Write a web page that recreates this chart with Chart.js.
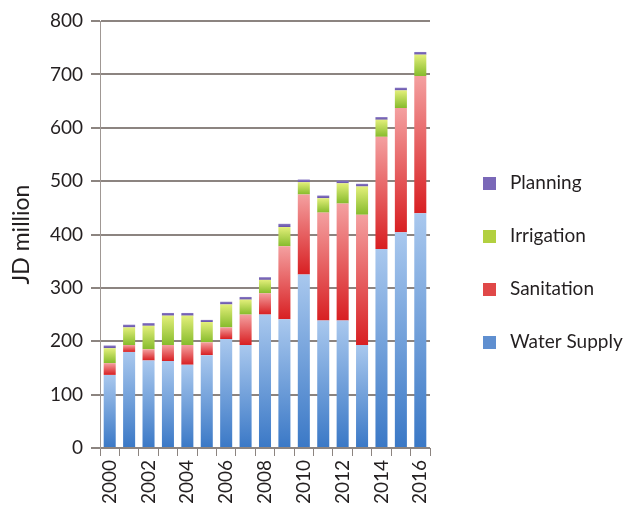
<!DOCTYPE html>
<html lang="en">
  <head>
    <meta charset="UTF-8" />
    <title>Water sector spending</title>
    <script src="https://cdn.jsdelivr.net/npm/chart.js@4/dist/chart.umd.min.js"></script>
    <style>
      html, body {
        margin: 0;
        padding: 0;
        background: #fff;
      }
      .chart-box {
        position: relative;
        width: 629px;
        height: 517px;
      }
    </style>
  </head>
  <body>
    <div class="chart-box">
      <canvas id="spendChart"></canvas>
    </div>

    <script>
      const years = ["2000", "2001", "2002", "2003", "2004", "2005", "2006", "2007", "2008",
        "2009", "2010", "2011", "2012", "2013", "2014", "2015", "2016"];

      // JD million per year
      const waterSupply = [137, 180, 164, 163, 156, 174, 204, 193, 250, 241, 325, 239, 239, 193, 373, 404, 440];
      const sanitation = [22, 13, 21, 30, 37, 24, 22, 57, 40, 137, 150, 202, 219, 244, 210, 233, 257];
      const irrigation = [28, 33, 44, 55, 55, 38, 43, 28, 25, 36, 23, 27, 38, 53, 32, 33, 40];
      const planning = [5, 5, 5, 5, 5, 4, 5, 5, 5, 6, 5, 5, 5, 5, 5, 5, 5];

      const yTicks = [0, 100, 200, 300, 400, 500, 600, 700, 800];

      const FONT = "Lato, 'Open Sans', sans-serif";

      // bottom / top colour of each segment's vertical fade
      const fades = [
        { bottom: "#3a78c6", top: "#a9c8ee", swatch: "#5f8fd0" },
        { bottom: "#d81f22", top: "#f4a0a0", swatch: "#e04848" },
        { bottom: "#86bb2c", top: "#e3ef7a", swatch: "#b2d040" },
        { bottom: "#6550a8", top: "#8a7ac4", swatch: "#7a68b8" },
      ];

      const series = [
        { label: "Water Supply", data: waterSupply },
        { label: "Sanitation", data: sanitation },
        { label: "Irrigation", data: irrigation },
        { label: "Planning", data: planning },
      ];

      function segmentFill(c) {
        const chart = c.chart;
        const fade = fades[c.datasetIndex];
        if (!chart.chartArea || c.dataIndex === undefined) return fade.swatch;
        const y = chart.scales.y;
        let base = 0;
        for (let d = 0; d < c.datasetIndex; d++) base += series[d].data[c.dataIndex];
        const top = base + series[c.datasetIndex].data[c.dataIndex];
        const g = chart.ctx.createLinearGradient(0, y.getPixelForValue(base), 0, y.getPixelForValue(top));
        g.addColorStop(0, fade.bottom);
        g.addColorStop(1, fade.top);
        return g;
      }

      // legend on the right, top entry = last series
      const sideLegend = {
        id: "sideLegend",
        afterDraw(chart) {
          const ctx = chart.ctx;
          const rows = [3, 2, 1, 0];
          ctx.save();
          ctx.font = "19px " + FONT;
          ctx.textBaseline = "middle";
          rows.forEach((d, k) => {
            const yy = 183 + k * 53;
            ctx.fillStyle = fades[d].swatch;
            ctx.fillRect(483, yy - 6, 13, 13);
            ctx.fillStyle = "#231f20";
            ctx.fillText(series[d].label, 510, yy);
          });
          ctx.restore();
        },
      };

      new Chart(document.getElementById("spendChart"), {
        type: "bar",
        data: {
          labels: years,
          datasets: series.map((s) => ({
            label: s.label,
            data: s.data,
            backgroundColor: segmentFill,
            borderWidth: 0,
            barPercentage: 0.62,
            categoryPercentage: 1,
          })),
        },
        options: {
          responsive: true,
          maintainAspectRatio: false,
          animation: false,
          layout: { padding: { left: 8, right: 199, top: 21, bottom: 0 } },
          plugins: {
            legend: { display: false },
            tooltip: { enabled: false },
          },
          scales: {
            x: {
              stacked: true,
              afterFit: (axis) => {
                axis.height = 69;
              },
              grid: {
                offset: true,
                drawOnChartArea: false,
                tickLength: 8,
                color: "#8c8480",
                lineWidth: 1,
              },
              border: { display: false },
              ticks: {
                autoSkip: false,
                minRotation: 90,
                maxRotation: 90,
                padding: 4,
                color: "#231f20",
                font: { family: FONT, size: 19 },
                callback: (v, i) => (i % 2 === 0 ? years[i] : ""),
              },
            },
            y: {
              stacked: true,
              min: 0,
              max: 800,
              afterFit: (axis) => {
                axis.width = 92;
              },
              afterBuildTicks: (axis) => {
                axis.ticks = yTicks.map((v) => ({ value: v }));
              },
              grid: {
                color: "#8c8480",
                lineWidth: 2,
                tickLength: 9,
              },
              border: { color: "#a09894", width: 1 },
              ticks: {
                padding: 8,
                color: "#231f20",
                font: { family: FONT, size: 19 },
              },
              title: {
                display: true,
                text: "JD million",
                color: "#231f20",
                font: { family: FONT, size: 23 },
                padding: { top: 0, bottom: 0 },
              },
            },
          },
        },
        plugins: [sideLegend],
      });
    </script>
  </body>
</html>
